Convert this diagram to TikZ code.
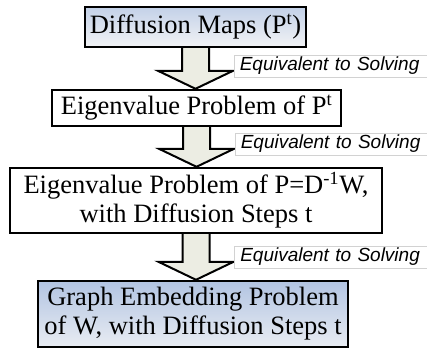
\documentclass[tikz,border=0pt]{standalone}
\usepackage{fontspec}
\setmainfont{Liberation Serif}
\newfontfamily\labelfont{Liberation Sans}
\usetikzlibrary{calc}
\definecolor{boxblue}{HTML}{C3D1E8}
\definecolor{boxbluedeep}{HTML}{B2C4E2}
\definecolor{boxpale}{HTML}{F2F3F5}
\definecolor{arrowfill}{HTML}{ECEDE3}
\definecolor{labelrule}{HTML}{D2D2D2}
\newcommand{\solvearrow}[3]{%
    \draw[bigarrow] let \p1=(#1.south), \p2=(#2.north) in
        (\x1-13.5pt,\y1) -- (\x1-13.5pt,\y2+18pt) -- (\x1-37.5pt,\y2+18pt) -- (\x1,\y2)
        -- (\x1+37.5pt,\y2+18pt) -- (\x1+13.5pt,\y2+18pt) -- (\x1+13.5pt,\y1);
    \path let \p1=(#1.south), \p2=(#2.north) in
        node[solvelabel] (#3) at (\x1+38pt,\y2+23pt) {Equivalent to Solving};}

\begin{document}
\begin{tikzpicture}[x=1pt,y=-1pt,
        stepbox/.style={draw=black,line width=2.4pt,fill=white,align=center,inner sep=0pt,
            font=\fontsize{26.5}{29}\selectfont},
        topbox/.style={stepbox,top color=boxblue,bottom color=boxpale},
        endbox/.style={stepbox,top color=boxbluedeep,bottom color=boxpale!80!boxblue},
        bigarrow/.style={draw=black,line width=2pt,fill=arrowfill,line join=miter},
        solvelabel/.style={draw=labelrule,line width=0.6pt,fill=white,anchor=west,align=left,
            text width=190pt,inner xsep=6pt,inner ysep=0pt,minimum height=22pt,
            font=\labelfont\itshape\fontsize{19}{21}\selectfont}]
    \useasboundingbox (0,0) rectangle (427,349);

    \node[topbox,minimum width=221pt,minimum height=40pt] (maps) at (195.5,27) {Diffusion Maps (P\textsuperscript{t})};
    \node[stepbox,minimum width=289pt,minimum height=36pt] (eigpt) at (196.5,108) {Eigenvalue Problem of P\textsuperscript{t}};
    \node[stepbox,minimum width=372pt,minimum height=65pt] (eigp) at (196,200.5) {Eigenvalue Problem of P=D\textsuperscript{-1}W,\\with Diffusion Steps t};
    \node[endbox,minimum width=310pt,minimum height=66pt] (embed) at (193,314) {Graph Embedding Problem\\of W, with Diffusion Steps t};

    \solvearrow{maps}{eigpt}{solve1}
    \solvearrow{eigpt}{eigp}{solve2}
    \solvearrow{eigp}{embed}{solve3}
\end{tikzpicture}
\end{document}
